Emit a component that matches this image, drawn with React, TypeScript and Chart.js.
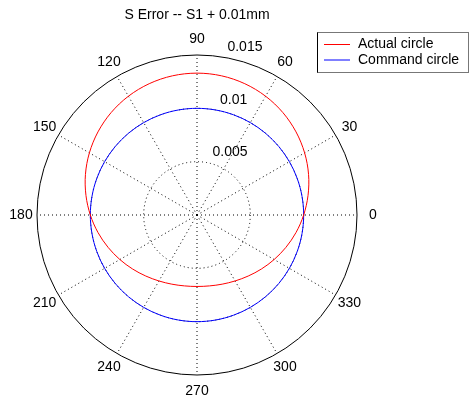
import React, { useEffect, useRef } from 'react';
import { Chart, registerables } from 'chart.js';

Chart.register(...registerables);

const TITLE = 'S Error -- S1 + 0.01mm';
const FONT = '14px "Liberation Sans", Arial, sans-serif';

// polar angles (degrees, counter-clockwise from the +x axis)
const angles = [0, 10, 20, 30, 40, 50, 60, 70, 80, 90, 100, 110, 120, 130, 140, 150, 160, 170,
  180, 190, 200, 210, 220, 230, 240, 250, 260, 270, 280, 290, 300, 310, 320, 330, 340, 350];

// radius of the measured (actual) circle at each angle
const actualRadius = [0.01, 0.01057, 0.01113, 0.01165, 0.01212, 0.01253, 0.01286, 0.0131, 0.01325,
  0.0133, 0.01325, 0.0131, 0.01286, 0.01253, 0.01212, 0.01165, 0.01113, 0.01057,
  0.01, 0.00943, 0.00887, 0.00835, 0.00788, 0.00747, 0.00714, 0.0069, 0.00675,
  0.0067, 0.00675, 0.0069, 0.00714, 0.00747, 0.00788, 0.00835, 0.00887, 0.00943];

// radius of the commanded circle at each angle
const commandRadius = [0.01, 0.01, 0.01, 0.01, 0.01, 0.01, 0.01, 0.01, 0.01,
  0.01, 0.01, 0.01, 0.01, 0.01, 0.01, 0.01, 0.01, 0.01,
  0.01, 0.01, 0.01, 0.01, 0.01, 0.01, 0.01, 0.01, 0.01,
  0.01, 0.01, 0.01, 0.01, 0.01, 0.01, 0.01, 0.01, 0.01];

const radiusTicks = [0.005, 0.01, 0.015];
const angleTickLabels = ['0', '30', '60', '90', '120', '150', '180', '210', '240', '270', '300', '330'];
const seriesNames = ['Actual circle', 'Command circle'];
const seriesColors = ['#ff0000', '#0000ff'];

const R_MAX = radiusTicks[radiusTicks.length - 1];

// radar goes clockwise from its start angle; MATLAB polar goes counter-clockwise
const order = angles.map((_, i) => (angles.length - i) % angles.length);
const radarLabels = order.map((i) => String(angles[i]));

const polarDecor = {
  id: 'polarDecor',
  afterDraw(chart: any) {
    const ctx = chart.ctx;
    const scale = chart.scales.r;
    ctx.save();
    ctx.fillStyle = '#000';
    ctx.font = FONT;

    // title
    ctx.textAlign = 'center';
    ctx.textBaseline = 'middle';
    ctx.fillText(TITLE, scale.xCenter, 15);

    // angle labels at 1.1 * rmax
    const labDist = scale.getDistanceFromCenterForValue(R_MAX * 1.1);
    radarLabels.forEach((lab: string, i: number) => {
      if (angleTickLabels.includes(lab)) {
        const p = scale.getPointPosition(i, labDist);
        ctx.fillText(lab, p.x, p.y);
      }
    });

    // radius labels along 82 degrees
    ctx.textAlign = 'left';
    ctx.textBaseline = 'bottom';
    radiusTicks.forEach((v) => {
      const d = scale.getDistanceFromCenterForValue(v + R_MAX / 3 / 20);
      const p = scale.getPointPosition(0, d, (-82 * Math.PI) / 180);
      ctx.fillText('  ' + String(v), p.x, p.y);
    });

    // legend
    const bx = 317.5, by = 32.5, bw = 151, bh = 40;
    ctx.fillStyle = '#fff';
    ctx.fillRect(bx, by, bw, bh);
    ctx.strokeStyle = '#777';
    ctx.lineWidth = 1;
    ctx.strokeRect(bx, by, bw, bh);
    ctx.strokeStyle = '#000';
    ctx.beginPath();
    ctx.moveTo(bx, by);
    ctx.lineTo(bx, by + bh);
    ctx.stroke();
    ctx.textAlign = 'left';
    ctx.textBaseline = 'middle';
    chart.data.datasets.forEach((ds: any, k: number) => {
      const y = 44.5 + k * 15.5;
      ctx.strokeStyle = ds.borderColor;
      ctx.beginPath();
      ctx.moveTo(324, y);
      ctx.lineTo(350, y);
      ctx.stroke();
      ctx.fillStyle = '#000';
      ctx.fillText(ds.label, 358, y);
    });
    ctx.restore();
  },
};

export default function App() {
  const ref = useRef<HTMLCanvasElement>(null);

  useEffect(() => {
    document.body.style.margin = '0';
    const canvas = ref.current;
    if (!canvas) return;
    const chart = new Chart(canvas, {
      type: 'radar',
      data: {
        labels: radarLabels,
        datasets: [
          {
            label: seriesNames[0],
            data: order.map((i) => actualRadius[i]),
            borderColor: seriesColors[0],
            backgroundColor: 'transparent',
            borderWidth: 1,
            fill: false,
            tension: 0.335,
            pointRadius: 0,
          },
          {
            label: seriesNames[1],
            data: order.map((i) => commandRadius[i]),
            borderColor: seriesColors[1],
            backgroundColor: 'transparent',
            borderWidth: 1,
            fill: false,
            tension: 0.335,
            pointRadius: 0,
          },
        ],
      },
      options: {
        responsive: false,
        animation: false,
        devicePixelRatio: 1,
        layout: { padding: { left: 37, top: 55, right: 113, bottom: 29 } },
        plugins: {
          legend: { display: false },
          title: { display: false },
          tooltip: { enabled: false },
        },
        events: [],
        scales: {
          r: {
            min: 0,
            max: R_MAX,
            startAngle: 90,
            ticks: { display: false, stepSize: radiusTicks[0] },
            pointLabels: { display: false },
            grid: {
              circular: true,
              color: '#000',
              lineWidth: 1,
            },
            border: {
              dash: (c: any) => (c.tick && c.tick.value > R_MAX * 0.99 ? [] : [1, 3]),
            },
            angleLines: {
              display: true,
              color: '#000',
              lineWidth: (c: any) => (angleTickLabels.includes(c.label) ? 1 : 0),
              borderDash: [1, 3],
            },
          },
        },
      },
      plugins: [polarDecor],
    } as any);
    return () => chart.destroy();
  }, []);

  return (
    <div style={{ position: 'absolute', left: 0, top: 0, width: 471, height: 405 }}>
      <canvas ref={ref} width={471} height={405} />
    </div>
  );
}
